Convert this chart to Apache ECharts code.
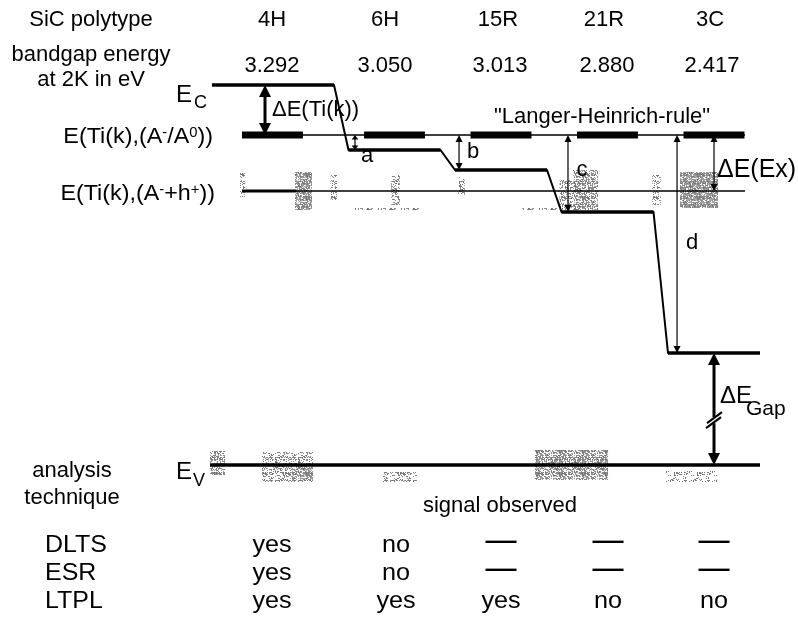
<!DOCTYPE html>
<html>
<head>
<meta charset="utf-8">
<script src="https://cdn.jsdelivr.net/npm/echarts@6/dist/echarts.min.js"></script>
<style>
  html, body { margin: 0; padding: 0; background: #fff; }
  #chart { width: 798px; height: 621px; }
</style>
</head>
<body>
<div id="chart"></div>
<script>
// SiC polytypes and their band gaps at 2 K (eV)
const polytypes = ['4H', '6H', '15R', '21R', '3C'];
const bandgaps = ['3.292', '3.050', '3.013', '2.880', '2.417'];

// Schematic level positions (diagram units, up = higher energy),
// measured from the Ti acceptor level E(Ti(k),(A-/A0)).
const conductionBandEdge = [50, -15, -35, -77, -218];
const tiAcceptorLevel = 0;
const excitonLevel = -56;        // E(Ti(k),(A- + h+))
const valenceBandEdge = -330;

// Offsets between the Ti level and the conduction band edges
const offsetLabels = ['a', 'b', 'c', 'd'];

// Which technique sees the Ti signal in each polytype
const techniques = ['DLTS', 'ESR', 'LTPL'];
const dltsSignal = ['yes', 'no', '—', '—', '—'];
const esrSignal = ['yes', 'no', '—', '—', '—'];
const ltplSignal = ['yes', 'yes', 'yes', 'no', 'no'];

// ---------------------------------------------------------------------------
// Layout: polytype i sits at x = i on the horizontal axis.
const FONT = "'Liberation Sans', Arial, Helvetica, sans-serif";
const STEP_HALF = 0.432;          // half width of one conduction-band step
const FIRST_STEP_LEFT = -0.714;   // the 4H edge reaches further left
const BAR_HALF = 0.286;           // half width of the bold Ti level bars
const TI_BAR_SHIFT = [-0.146, 0, 0, 0, 0];
const LINE_LEFT = -0.432, LINE_RIGHT = 4.291;
const EV_LEFT = -0.732, EV_RIGHT = 4.432;
const OFFSET_ARROW_X = [0.629, 1.606, 2.629, 3.653];
const TI_ARROW_X = -0.216, RIGHT_ARROW_X = 4.0;

// Line segments [x1, y1, x2, y2]
const ecSteps = [], ecSlopes = [];
conductionBandEdge.forEach((e, i) => {
  const left = i === 0 ? FIRST_STEP_LEFT : i - STEP_HALF;
  ecSteps.push([left, e, i + STEP_HALF, e]);
  if (i + 1 < conductionBandEdge.length) {
    ecSlopes.push([i + STEP_HALF, e, i + 1 - STEP_HALF, conductionBandEdge[i + 1]]);
  }
});
const tiBars = polytypes.map((p, i) => [i + TI_BAR_SHIFT[i] - BAR_HALF, tiAcceptorLevel, i + TI_BAR_SHIFT[i] + BAR_HALF, tiAcceptorLevel]);
const thinLevels = [
  [LINE_LEFT, tiAcceptorLevel, LINE_RIGHT, tiAcceptorLevel],
  [LINE_LEFT, excitonLevel, LINE_RIGHT, excitonLevel]
];
const excitonBold = [[LINE_LEFT, excitonLevel, 0.08, excitonLevel]];
const valenceLine = [[EV_LEFT, valenceBandEdge, EV_RIGHT, valenceBandEdge]];

// Arrows [x, from, to, kind]  kind: 0 thin, 1 heavy, 2 heavy with axis break
const arrows = [[TI_ARROW_X, conductionBandEdge[0], tiAcceptorLevel, 1]];
offsetLabels.forEach((l, k) => arrows.push([OFFSET_ARROW_X[k], tiAcceptorLevel, conductionBandEdge[k + 1], 0]));
arrows.push([RIGHT_ARROW_X, tiAcceptorLevel, excitonLevel, 0]);
arrows.push([RIGHT_ARROW_X, conductionBandEdge[4], valenceBandEdge, 2]);

// Grainy shaded patches around the exciton and valence band levels [x1, y1, x2, y2, density]
const shading = [
  [-0.45, -38, -0.40, -62, 0.3],
  [0.066, -37, 0.225, -75, 0.7],
  [0.40, -40, 0.46, -65, 0.3],
  [0.97, -40, 1.05, -70, 0.35],
  [1.60, -42, 1.66, -60, 0.3],
  [2.55, -45, 2.68, -75, 0.4],
  [2.676, -35, 2.911, -75, 0.55],
  [3.42, -40, 3.50, -70, 0.3],
  [3.681, -37, 4.038, -73, 0.8],
  [0.6, -73, 1.25, -75, 0.5],
  [2.2, -73, 2.66, -75, 0.5],
  [-0.732, -316, -0.592, -340, 0.5],
  [-0.244, -317, 0.235, -347, 0.35],
  [0.02, -330, 0.235, -345, 0.65],
  [0.892, -337, 1.211, -347, 0.3],
  [2.319, -315, 3.005, -345, 0.6],
  [3.54, -336, 4.03, -347, 0.2]
];

// Deterministic grain tile (hashed pixel pattern) for a given dot density
const tileCache = {};
function grain(density) {
  const key = density.toFixed(2);
  if (tileCache[key]) return tileCache[key];
  const n = 23;
  const c = document.createElement('canvas');
  c.width = n; c.height = n;
  const g = c.getContext('2d');
  for (let y = 0; y < n; y++) {
    for (let x = 0; x < n; x++) {
      const h = Math.sin(x * 12.9898 + y * 78.233) * 43758.5453;
      const v = h - Math.floor(h);
      if (v < density) {
        const shade = 110 + Math.floor(v * 90);
        g.fillStyle = 'rgb(' + shade + ',' + shade + ',' + shade + ')';
        g.fillRect(x, y, 1, 1);
      }
    }
  }
  tileCache[key] = { image: c, repeat: 'repeat' };
  return tileCache[key];
}

function segmentSeries(data, width, cap) {
  return {
    type: 'custom', silent: true, animation: false, z: 3,
    encode: { x: [0, 2], y: [1, 3] },
    data: data,
    renderItem(params, api) {
      const p1 = api.coord([api.value(0), api.value(1)]);
      const p2 = api.coord([api.value(2), api.value(3)]);
      return {
        type: 'line',
        shape: { x1: p1[0], y1: p1[1], x2: p2[0], y2: p2[1] },
        style: { stroke: '#000', lineWidth: width, lineCap: cap || 'butt' }
      };
    }
  };
}

const arrowSeries = {
  type: 'custom', silent: true, animation: false, z: 4,
  encode: { x: 0, y: [1, 2] },
  data: arrows,
  renderItem(params, api) {
    const x = api.value(0), kind = api.value(3);
    const a = api.coord([x, api.value(1)]), b = api.coord([x, api.value(2)]);
    const cx = a[0];
    const top = Math.min(a[1], b[1]), bot = Math.max(a[1], b[1]);
    const span = bot - top;
    const heavy = kind >= 1;
    const hl = heavy ? 12 : Math.min(7, span / 3.4);
    const hw = heavy ? 6 : Math.min(3.5, span / 4.5);
    const lw = heavy ? 3 : 1.2;
    const children = [
      { type: 'line', shape: { x1: cx, y1: top + hl - 1, x2: cx, y2: bot - hl + 1 }, style: { stroke: '#000', lineWidth: lw } },
      { type: 'polygon', shape: { points: [[cx, top], [cx - hw, top + hl], [cx + hw, top + hl]] }, style: { fill: '#000' } },
      { type: 'polygon', shape: { points: [[cx, bot], [cx - hw, bot - hl], [cx + hw, bot - hl]] }, style: { fill: '#000' } }
    ];
    if (kind === 2) {
      const my = top + span * 0.6;
      children.push(
        { type: 'rect', shape: { x: cx - 3, y: my - 3, width: 6, height: 6 }, style: { fill: '#fff' } },
        { type: 'line', shape: { x1: cx - 7, y1: my + 3, x2: cx + 8, y2: my - 8 }, style: { stroke: '#000', lineWidth: 2.2 } },
        { type: 'line', shape: { x1: cx - 8, y1: my + 8, x2: cx + 7, y2: my - 3 }, style: { stroke: '#000', lineWidth: 2.2 } }
      );
    }
    return { type: 'group', children };
  }
};

const shadingSeries = {
  type: 'custom', silent: true, animation: false, z: 1,
  encode: { x: [0, 2], y: [1, 3] },
  data: shading,
  renderItem(params, api) {
    const p1 = api.coord([api.value(0), api.value(1)]);
    const p2 = api.coord([api.value(2), api.value(3)]);
    return {
      type: 'rect',
      shape: { x: Math.min(p1[0], p2[0]), y: Math.min(p1[1], p2[1]), width: Math.abs(p2[0] - p1[0]), height: Math.abs(p2[1] - p1[1]) },
      style: { fill: grain(api.value(4)) }
    };
  }
};

// ---------------------------------------------------------------------------
// Text
function txt(x, y, text, size, align, extra, sx) {
  return {
    type: 'text', x: x, y: y, z: 10, silent: true, scaleX: sx || 1,
    style: Object.assign({
      text: text, fill: '#000', fontFamily: FONT, fontSize: size,
      align: align || 'center', verticalAlign: 'middle'
    }, extra || {})
  };
}
function richTxt(x, y, text, rich, align, sx) {
  return {
    type: 'text', x: x, y: y, z: 10, silent: true, scaleX: sx || 1,
    style: { text: text, rich: rich, fill: '#000', fontFamily: FONT, align: align || 'left', verticalAlign: 'middle' }
  };
}
const supRich = {
  n: { fontSize: 22, fontFamily: FONT, fill: '#000' },
  s: { fontSize: 14, fontFamily: FONT, fill: '#000', verticalAlign: 'top' }
};

const HEADER_X = [272, 385, 498, 604, 710];
const GAP_X = [272, 385, 500, 607, 712];
const TABLE_X = [272, 396, 501, 608, 714];
const rowSignals = [dltsSignal, esrSignal, ltplSignal];
const ROW_Y = [545, 573, 601];

const texts = [
  txt(91, 20, 'SiC polytype', 22),
  txt(91, 55, 'bandgap energy', 22),
  txt(91, 80, 'at 2K in eV', 22),
  txt(72, 471, 'analysis', 22),
  txt(72, 498, 'technique', 22),
  txt(500, 506, 'signal observed', 22),
  txt(602, 117, '"Langer-Heinrich-rule"', 22),
  txt(272, 110, 'ΔE(Ti(k))', 22, 'left'),
  txt(717, 170, 'ΔE(Ex)', 25, 'left'),
  txt(720, 396, 'ΔE', 24, 'left'),
  txt(746, 409, 'Gap', 21, 'left'),
  txt(176, 95, 'E', 24, 'left'),
  txt(194, 103, 'C', 18, 'left'),
  txt(176, 472, 'E', 24, 'left'),
  txt(193, 481, 'V', 18, 'left'),
  richTxt(213, 137, '{n|E(Ti(k),(A}{s|-}{n|/A}{s|0}{n|))}', supRich, 'right', 1.06),
  richTxt(215, 194, '{n|E(Ti(k),(A}{s|-}{n|+h}{s|+}{n|))}', supRich, 'right', 1.06)
];
const OFFSET_LABEL_POS = [[367, 156], [473, 152], [582, 170], [692, 243]];
offsetLabels.forEach((l, k) => texts.push(txt(OFFSET_LABEL_POS[k][0], OFFSET_LABEL_POS[k][1], l, 22)));
polytypes.forEach((p, i) => {
  texts.push(txt(HEADER_X[i], 20, p, 22));
  texts.push(txt(GAP_X[i], 66, bandgaps[i], 22));
});
techniques.forEach((t, r) => {
  texts.push(txt(45, ROW_Y[r], t, 24, 'left', null, 1.04));
  rowSignals[r].forEach((v, i) => {
    if (v === '—') {
      texts.push(txt(TABLE_X[i], ROW_Y[r] - 3, v, 23, 'center', { fontWeight: 'bold' }, 1.35));
    } else {
      texts.push(txt(TABLE_X[i], ROW_Y[r], v, 24, 'center', null, 1.05));
    }
  });
});

// ---------------------------------------------------------------------------
const chart = echarts.init(document.getElementById('chart'), null, { renderer: 'canvas' });
chart.setOption({
  backgroundColor: '#fff',
  animation: false,
  grid: { left: 0, right: 0, top: 0, bottom: 0 },
  xAxis: { type: 'value', min: -2.7042, max: 4.7887, show: false },
  yAxis: { type: 'value', min: -486, max: 135, show: false },
  series: [
    shadingSeries,
    segmentSeries(thinLevels, 1.6),
    segmentSeries(excitonBold, 3),
    segmentSeries(tiBars, 7),
    segmentSeries(ecSlopes, 2, 'round'),
    segmentSeries(ecSteps, 3.5),
    segmentSeries(valenceLine, 3.5),
    arrowSeries
  ],
  graphic: texts
});
</script>
</body>
</html>
